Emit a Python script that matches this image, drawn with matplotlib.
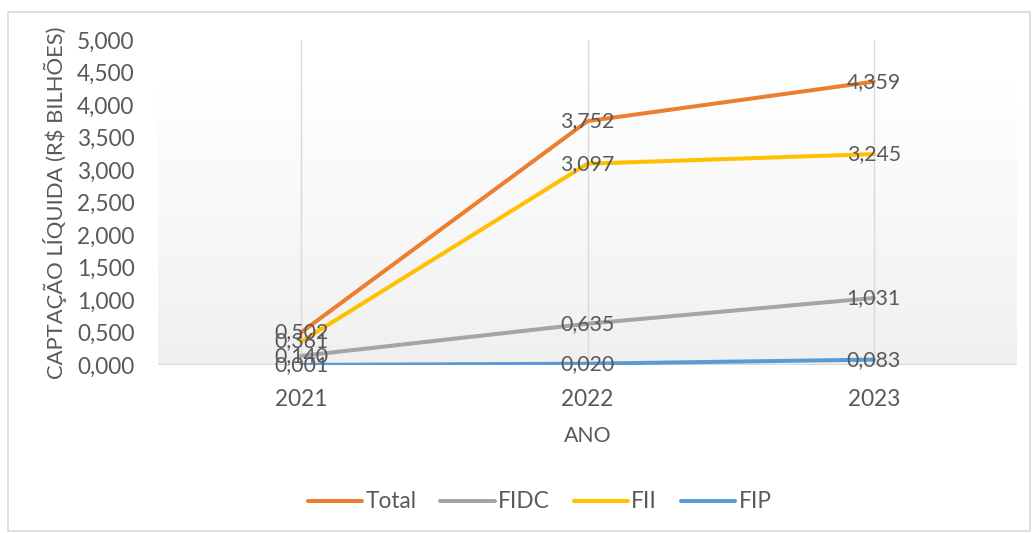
import matplotlib
matplotlib.use("Agg")
import matplotlib.pyplot as plt
import numpy as np
from matplotlib.patches import Rectangle
from matplotlib.colors import LinearSegmentedColormap

plt.rcParams['font.family'] = ['Lato', 'DejaVu Sans']

years = ["2021", "2022", "2023"]
total = [0.502, 3.752, 4.359]
fidc = [0.140, 0.635, 1.031]
fii = [0.361, 3.097, 3.245]
fip = [0.001, 0.020, 0.083]
series_names = ["Total", "FIDC", "FII", "FIP"]
colors = ["#ED7D31", "#A5A5A5", "#FFC000", "#5B9BD5"]
yticks = [0, 0.5, 1, 1.5, 2, 2.5, 3, 3.5, 4, 4.5, 5]

def fmt(v):
    return f"{v:.3f}".replace(".", ",")

W, H = 1034, 533
fig = plt.figure(figsize=(W/100, H/100), dpi=100)
ax = fig.add_axes([158/W, 1-365/H, (1017-158)/W, (365-40)/H])

txt = "#595959"
x = np.arange(len(years))
ax.set_xlim(-0.5, 2.5)
ax.set_ylim(0, 5)

# gradient background
grad = np.linspace(0, 1, 256).reshape(-1, 1)
cmap = LinearSegmentedColormap.from_list("g", ["#f0f0f0", "#ffffff"])
ax.imshow(grad, extent=(-0.5, 2.5, 0, 4.35), origin="lower", aspect="auto",
          cmap=cmap, zorder=0)

for xi in x:
    ax.axvline(xi, color="#d9d9d9", lw=1, zorder=1)
ax.axhline(0, color="#d9d9d9", lw=1.6, zorder=2)

data = [total, fidc, fii, fip]
lines = []
for vals, c, name in zip(data, colors, series_names):
    ln, = ax.plot(x, vals, color=c, lw=2.9, solid_capstyle="round", zorder=3, label=name)
    lines.append(ln)
for vals in data:
    for xi, v in zip(x, vals):
        ax.text(xi, v, fmt(v), ha="center", va="center", fontsize=15.3, color=txt, zorder=5)

for s in ax.spines.values():
    s.set_visible(False)
ax.set_xticks(x)
ax.set_xticklabels(years)
ax.set_yticks(yticks)
ax.set_yticklabels([fmt(v) for v in yticks])
ax.tick_params(length=0, labelsize=16.3, labelcolor=txt)
ax.tick_params(axis="y", pad=17)
ax.tick_params(axis="x", pad=17)
ax.set_xlabel("ANO", fontsize=15.3, color=txt, labelpad=12)
ax.set_ylabel("CAPTAÇÃO LÍQUIDA (R$ BILHÕES)", fontsize=15.8, color=txt, labelpad=7)

fig.legend(handles=lines, loc="center", bbox_to_anchor=(0.522, 1-502/H), ncol=4,
           frameon=False, fontsize=16.3, labelcolor=txt, handlelength=2.4,
           columnspacing=1.05, handletextpad=0.15)

fig.patches.append(Rectangle((8/W, 2/H), (1030-8)/W, (533-12-2)/H, transform=fig.transFigure,
                             fill=False, edgecolor="#d9d9d9", lw=1.2))

fig.savefig("out.png", dpi=100)
